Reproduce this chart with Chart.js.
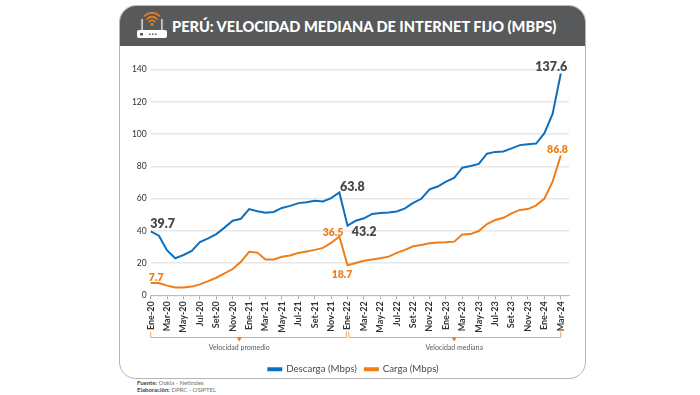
<!DOCTYPE html>
<html lang="es">
<head>
    <meta charset="UTF-8">
    <title>Perú: velocidad mediana de internet fijo</title>
    <script src="https://cdn.jsdelivr.net/npm/chart.js"></script>
    <style>
        html, body {
            margin: 0;
            padding: 0;
            width: 700px;
            height: 395px;
            background: #fff;
            overflow: hidden;
            font-family: Lato, sans-serif;
        }
        .card {
            position: absolute;
            left: 119px;
            top: 5px;
            width: 465px;
            height: 372px;
            border: 1.5px solid #b5b5b5;
            border-radius: 17px;
            overflow: hidden;
        }
        .card-head {
            height: 40px;
            background: #58595b;
        }
        .head-title {
            position: absolute;
            left: 172px;
            top: 17px;
            color: #fff;
            font-size: 14.6px;
            line-height: 20px;
            font-weight: 900;
            white-space: nowrap;
        }
        .router {
            position: absolute;
            left: 135px;
            top: 9px;
        }
        .source {
            position: absolute;
            left: 137px;
            top: 380px;
            font-size: 6px;
            line-height: 6.5px;
            color: #6d6e70;
        }
        .source b { color: #444; }
        #speedChart {
            position: absolute;
            left: 0;
            top: 0;
        }
    </style>
</head>
<body>
<div class="card"><div class="card-head"></div></div>
<svg class="router" width="34" height="30" viewBox="0 0 34 30">
    <rect x="2" y="21" width="30" height="8" rx="2" fill="#fff"/>
    <rect x="6.5" y="10" width="1.2" height="12" fill="#fff"/>
    <rect x="26.3" y="10" width="1.2" height="12" fill="#fff"/>
    <rect x="5" y="24" width="3" height="2.5" fill="#58595b"/>
    <rect x="14" y="24.5" width="1.5" height="1.5" fill="#58595b"/>
    <rect x="17" y="24.5" width="1.5" height="1.5" fill="#58595b"/>
    <rect x="20" y="24.5" width="1.5" height="1.5" fill="#58595b"/>
    <g fill="none" stroke="#ef7d1a" stroke-width="1.6" stroke-linecap="round">
        <path d="M9.5 7 A10.5 10.5 0 0 1 24.5 7"/>
        <path d="M12 10 A7 7 0 0 1 22 10"/>
        <path d="M14.2 12.6 A3.6 3.6 0 0 1 19.8 12.6"/>
    </g>
    <circle cx="17" cy="15.3" r="1.5" fill="#ef7d1a"/>
</svg>
<div class="head-title">PERÚ: VELOCIDAD MEDIANA DE INTERNET FIJO (MBPS)</div>
<div class="source"><b>Fuente:</b> Ookla - NetIndex<br><b>Elaboración:</b> DPRC - OSIPTEL</div>
<canvas id="speedChart" width="700" height="395"></canvas>

<script>
    const months = [
        'Ene-20', 'Feb-20', 'Mar-20', 'Abr-20', 'May-20', 'Jun-20', 'Jul-20', 'Ago-20', 'Set-20', 'Oct-20', 'Nov-20', 'Dic-20',
        'Ene-21', 'Feb-21', 'Mar-21', 'Abr-21', 'May-21', 'Jun-21', 'Jul-21', 'Ago-21', 'Set-21', 'Oct-21', 'Nov-21', 'Dic-21',
        'Ene-22', 'Feb-22', 'Mar-22', 'Abr-22', 'May-22', 'Jun-22', 'Jul-22', 'Ago-22', 'Set-22', 'Oct-22', 'Nov-22', 'Dic-22',
        'Ene-23', 'Feb-23', 'Mar-23', 'Abr-23', 'May-23', 'Jun-23', 'Jul-23', 'Ago-23', 'Set-23', 'Oct-23', 'Nov-23', 'Dic-23',
        'Ene-24', 'Feb-24', 'Mar-24'
    ];
    const descarga = [
        39.7, 37, 27.8, 23, 25, 27.6, 33, 35.3, 38, 42, 46.3, 47.5,
        53.5, 52.2, 51.2, 51.7, 54.2, 55.5, 57.2, 57.8, 58.6, 58.2, 60.3, 63.8,
        43.2, 46.3, 47.8, 50.5, 51, 51.4, 52, 53.9, 57.4, 59.9, 65.8, 67.5,
        70.5, 72.8, 79.2, 80.2, 81.5, 87.9, 89, 89.3, 91.2, 93.2, 93.8, 94.2,
        100.6, 112.5, 137.6
    ];
    const carga = [
        7.7, 7.6, 6, 4.8, 4.8, 5.4, 6.8, 8.8, 10.9, 13.6, 16.3, 20.8,
        27, 26.5, 22.2, 22.2, 23.9, 24.7, 26.3, 27.2, 28.2, 29.4, 32.5, 36.5,
        18.7, 20, 21.4, 22.2, 23, 24, 26.3, 28.2, 30.4, 31.2, 32.3, 32.7,
        32.9, 33.3, 37.7, 38, 39.9, 44.2, 46.7, 48.1, 50.8, 53, 53.5, 55.8,
        60, 70.5, 86.8
    ];

    const BLUE = '#0f6fbf';
    const ORANGE = '#ef7d1a';
    const DARK = '#4a4a4c';

    // value callouts: series, month index, offset from the point
    const callouts = [
        { data: descarga, i: 0, dx: 12, dy: -7, color: DARK, size: 12.5 },
        { data: descarga, i: 23, dx: 13, dy: -6, color: DARK, size: 12.5 },
        { data: descarga, i: 24, dx: 16.5, dy: 6.5, color: DARK, size: 12.5 },
        { data: descarga, i: 50, dx: -9.5, dy: -7, color: DARK, size: 12.5 },
        { data: carga, i: 0, dx: 5.5, dy: -5.5, color: ORANGE, size: 10.5 },
        { data: carga, i: 23, dx: -6.3, dy: -4, color: ORANGE, size: 10.5 },
        { data: carga, i: 24, dx: -5.5, dy: 9, color: ORANGE, size: 10.5 },
        { data: carga, i: 50, dx: -3.3, dy: -5.5, color: ORANGE, size: 10.5 }
    ];

    // period brackets under the axis, from/to as month index
    const periods = [
        { from: 0, to: 23.85, mark: 10.8, label: 'Velocidad promedio' },
        { from: 24.15, to: 50, mark: 37, label: 'Velocidad mediana' }
    ];

    const annotate = {
        id: 'annotate',
        afterLayout(chart) {
            // legend sits centred on the card, not on the plot
            chart.legend.left += 9;
            chart.legend.right += 9;
        },
        afterDatasetsDraw(chart) {
            const { ctx, scales: { x, y } } = chart;
            ctx.save();
            ctx.textAlign = 'center';
            ctx.textBaseline = 'middle';
            callouts.forEach(c => {
                ctx.font = '800 ' + c.size + 'px Lato';
                ctx.fillStyle = c.color;
                ctx.fillText(c.data[c.i].toFixed(1), x.getPixelForValue(c.i) + c.dx, y.getPixelForValue(c.data[c.i]) + c.dy);
            });
            const top = 331.5, bar = 337.5;
            periods.forEach(p => {
                const x0 = x.getPixelForValue(p.from), x1 = x.getPixelForValue(p.to), xm = x.getPixelForValue(p.mark);
                ctx.strokeStyle = '#f0a45c';
                ctx.lineWidth = 1;
                ctx.beginPath();
                ctx.moveTo(x0, top);
                ctx.lineTo(x0, bar);
                ctx.lineTo(x1, bar);
                ctx.lineTo(x1, top);
                ctx.stroke();
                ctx.fillStyle = '#e8791c';
                ctx.beginPath();
                ctx.moveTo(xm - 2.5, bar);
                ctx.lineTo(xm + 2.5, bar);
                ctx.lineTo(xm, bar + 4);
                ctx.fill();
                ctx.fillStyle = '#58595b';
                ctx.font = '7px Lato';
                ctx.fillText(p.label, xm, 347.5);
            });
            ctx.restore();
        }
    };

    new Chart(document.getElementById('speedChart'), {
        type: 'line',
        data: {
            // blank slot so the axis runs a little past the last month
            labels: [...months, ''],
            datasets: [
                { label: 'Descarga (Mbps)', data: descarga, borderColor: BLUE, backgroundColor: BLUE, borderWidth: 2, pointRadius: 0, tension: 0 },
                { label: 'Carga (Mbps)', data: carga, borderColor: ORANGE, backgroundColor: ORANGE, borderWidth: 2, pointRadius: 0, tension: 0 }
            ]
        },
        options: {
            responsive: false,
            animation: false,
            layout: { padding: { left: 120, right: 131, top: 69.7, bottom: 11 } },
            plugins: {
                tooltip: { enabled: false },
                legend: {
                    position: 'bottom',
                    labels: {
                        boxWidth: 13,
                        boxHeight: 2,
                        padding: 8,
                        color: '#4a4a4c',
                        font: { family: 'Lato', size: 9.7 }
                    }
                }
            },
            scales: {
                x: {
                    afterFit(scale) { scale.height = 61; },
                    border: { color: '#bdbdbd' },
                    grid: { drawOnChartArea: false, tickLength: 4, color: '#a8a8a8' },
                    ticks: {
                        autoSkip: false,
                        minRotation: 90,
                        maxRotation: 90,
                        padding: 2,
                        color: '#333',
                        font: { family: 'Lato', size: 9, weight: '700' },
                        // labels and tick marks every second month
                        callback(value, index) { return index % 2 === 0 ? this.getLabelForValue(value) : null; }
                    }
                },
                y: {
                    min: 0,
                    max: 140,
                    afterFit(scale) { scale.width = 30.7; },
                    border: { display: false },
                    grid: { color: '#e8e8e8', lineWidth: 1.5, drawTicks: false },
                    ticks: {
                        stepSize: 20,
                        padding: 4,
                        color: '#333',
                        font: { family: 'Lato', size: 8.5 }
                    }
                }
            }
        },
        plugins: [annotate]
    });
</script>
</body>
</html>
